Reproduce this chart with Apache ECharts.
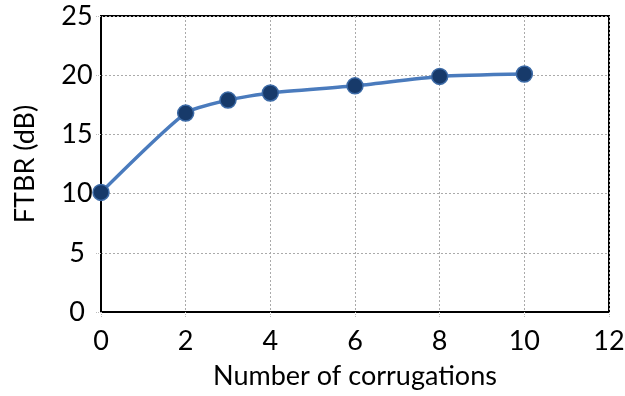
<!DOCTYPE html>
<html>
<head>
<meta charset="utf-8">
<script src="https://cdn.jsdelivr.net/npm/echarts@6/dist/echarts.min.js"></script>
<style>
  html, body { margin: 0; padding: 0; background: #fff; }
  #chart { width: 625px; height: 396px; }
</style>
</head>
<body>
<div id="chart"></div>
<script>
// Front-to-back ratio versus number of corrugations
const corrugations = [0, 2, 3, 4, 6, 8, 10];
const ftbr = [10.1, 16.8, 17.9, 18.5, 19.1, 19.9, 20.1];

const font = 'Lato, "Open Sans", sans-serif';
const chart = echarts.init(document.getElementById('chart'));
chart.setOption({
  animation: false,
  backgroundColor: '#ffffff',
  grid: {
    left: 101, right: 16, top: 16, bottom: 84,
    outerBoundsMode: 'none', containLabel: false,
    show: true, borderColor: '#000', borderWidth: 2
  },
  xAxis: {
    type: 'value', min: 0, max: 12, interval: 2,
    name: 'Number of corrugations', nameLocation: 'middle', nameGap: 51,
    nameTextStyle: { fontFamily: font, fontSize: 27, color: '#000' },
    axisLine: { lineStyle: { color: '#000', width: 2 } },
    axisTick: { show: true, length: 6, lineStyle: { color: '#bbb', type: 'dotted' } },
    axisLabel: { fontFamily: font, fontSize: 27, color: '#000', margin: 16 },
    splitLine: { lineStyle: { color: '#aaa', type: [2, 2], width: 1 } }
  },
  yAxis: {
    type: 'value', min: 0, max: 25, interval: 5,
    name: 'FTBR (dB)', nameLocation: 'middle', nameGap: 62,
    nameTextStyle: { fontFamily: font, fontSize: 27, color: '#000' },
    axisLine: { lineStyle: { color: '#000', width: 2 } },
    axisTick: { show: true, length: 5, lineStyle: { color: '#bbb', type: 'dotted' } },
    axisLabel: { fontFamily: font, fontSize: 27, color: '#000', margin: 24, align: 'center' },
    splitLine: { lineStyle: { color: '#aaa', type: [2, 2], width: 1 } }
  },
  series: [{
    type: 'line',
    data: corrugations.map((x, i) => [x, ftbr[i]]),
    smooth: 0.2,
    symbol: 'circle', symbolSize: 16,
    lineStyle: { color: '#4a7bbd', width: 3.5 },
    itemStyle: { color: '#173a6a', borderColor: '#3c6aa6', borderWidth: 1.5 }
  }]
});
</script>
</body>
</html>
